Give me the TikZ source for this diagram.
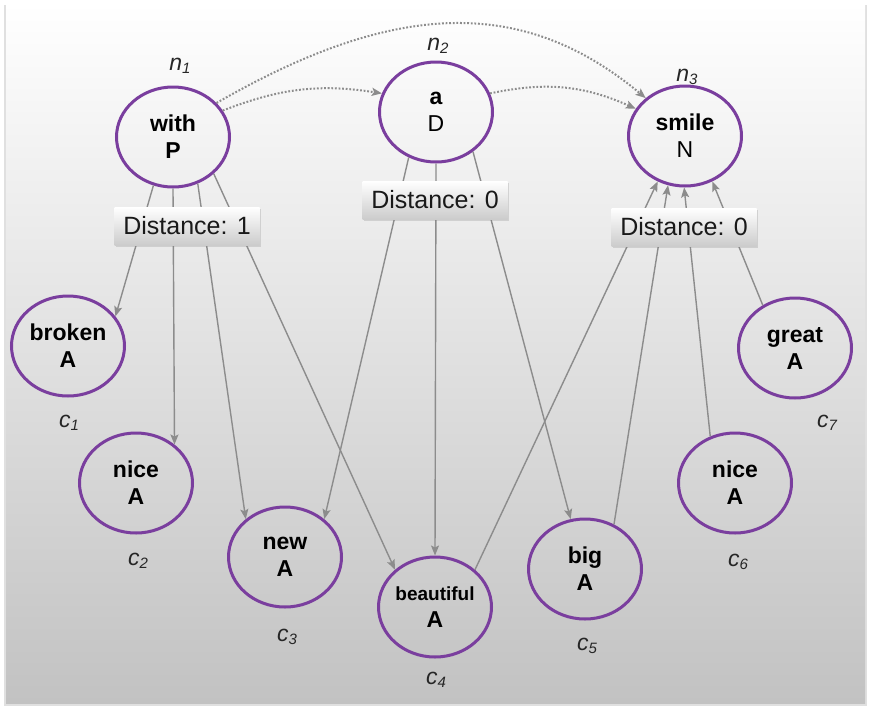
\documentclass[tikz,border=0pt]{standalone}
\usepackage{fontspec}
\setmainfont{Liberation Sans}
\usetikzlibrary{shapes.geometric, arrows.meta, shadows}

\definecolor{wordpurple}{RGB}{122,62,158}
\definecolor{edgegray}{RGB}{140,140,140}
\definecolor{panelgray}{RGB}{194,194,194}

\newcommand{\nodeidx}[2]{#1\raisebox{-3pt}{\fontsize{15}{15}\selectfont #2}}

\begin{document}
\begin{tikzpicture}
  [
    x = 1pt, y = 1pt,
    word/.style = {ellipse, draw = wordpurple, line width = 3pt,
      minimum width = 113pt, minimum height = 100pt, inner sep = 0pt,
      align = center, text = black,
      font = \fontsize{23}{27}\selectfont\bfseries},
    index/.style = {font = \fontsize{23}{23}\selectfont\itshape, text = black!85},
    distbox/.style = {top color = white, bottom color = black!20,
      minimum width = 145pt, minimum height = 38pt, inner sep = 0pt,
      drop shadow = {opacity = 0.25, shadow xshift = 1pt, shadow yshift = -2pt},
      font = \fontsize{25}{25}\selectfont, text = black!90},
    link/.style = {draw = edgegray, line width = 1.4pt,
      -{Stealth[length = 10pt, width = 8pt, inset = 2pt]}},
    order/.style = {link, line width = 2pt, dash pattern = on 1.8pt off 1.8pt}
  ]
  \useasboundingbox (0,0) rectangle (870,-710);
  % panel
  \fill[black!12] (4,-5) rectangle (867,-706);
  \shade[top color = white, bottom color = panelgray] (6,-3) rectangle (865,-703);

  % words of the sentence
  \node[word] (with)  at (173,-137) {with\\P};
  \node[word] (a)     at (436,-112) {a\\{\mdseries D}};
  \node[word] (smile) at (685,-136) {smile\\{\mdseries N}};

  % candidates
  \node[word] (broken)    at (68,-346)  {broken\\A};
  \node[word] (niceL)     at (136,-483) {nice\\A};
  \node[word] (new)       at (285,-557) {new\\A};
  \node[word] (beautiful) at (435,-607)
    {\makebox[0pt]{\fontsize{19}{27}\selectfont beautiful}\\A};
  \node[word] (big)       at (585,-569) {big\\A};
  \node[word] (niceR)     at (735,-483) {nice\\A};
  \node[word] (great)     at (795,-348) {great\\A};

  \node[index] (n1) at (180,-66) {\nodeidx{n}{1}};
  \node[index] (n2) at (438,-46) {\nodeidx{n}{2}};
  \node[index] (n3) at (687,-77) {\nodeidx{n}{3}};
  \node[index] (c1) at (69,-423)  {\nodeidx{c}{1}};
  \node[index] (c2) at (138,-561) {\nodeidx{c}{2}};
  \node[index] (c3) at (287,-637) {\nodeidx{c}{3}};
  \node[index] (c4) at (436,-680) {\nodeidx{c}{4}};
  \node[index] (c5) at (587,-646) {\nodeidx{c}{5}};
  \node[index] (c6) at (738,-562) {\nodeidx{c}{6}};
  \node[index] (c7) at (827,-423) {\nodeidx{c}{7}};

  % dependencies
  \draw[link] (with.248) -- (broken.32);
  \draw[link] (with.270) -- (niceL.45);
  \draw[link] (with.298) -- (new.136);
  \draw[link] (with.318) -- (beautiful.137);
  \draw[link] (a.239) -- (new.44);
  \draw[link] (a.270) -- (beautiful.90);
  \draw[link] (a.313) -- (big.106);
  \draw[link] (beautiful.43) -- (smile.239);
  \draw[link] (big.57) -- (smile.251);
  \draw[link] (niceR.118) -- (smile.269);
  \draw[link] (great.127) -- (smile.301);

  % word order
  \draw[order] (with.28) to[bend left = 15] (a.161);
  \draw[order] (with.38) .. controls (397,1) and (524,3) .. (smile.136);
  \draw[order] (a.19) to[bend left = 18] (smile.151);

  \node[distbox] (dist1) at (187,-226) {Distance: 1};
  \node[distbox] (dist2) at (435,-200) {Distance: 0};
  \node[distbox] (dist3) at (684,-227) {Distance: 0};
\end{tikzpicture}
\end{document}
